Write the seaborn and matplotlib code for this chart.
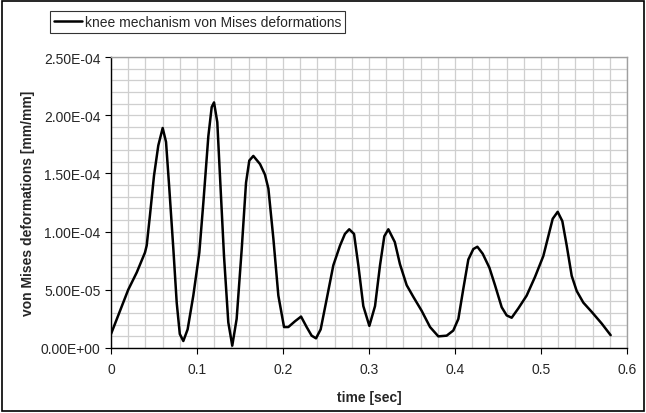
import matplotlib
matplotlib.use("Agg")
import matplotlib.pyplot as plt
import seaborn as sns
import pandas as pd
from matplotlib.ticker import MultipleLocator, FuncFormatter
from matplotlib.patches import Rectangle

time_sec = [0.0, 0.01, 0.02, 0.03, 0.0395, 0.0415, 0.0453, 0.050, 0.055, 0.0601,
            0.064, 0.0678, 0.0725, 0.0764, 0.080, 0.0841, 0.0891, 0.0957, 0.1027, 0.1074,
            0.1132, 0.1171, 0.1198, 0.1236, 0.1267, 0.1314, 0.1364, 0.141, 0.1461, 0.152,
            0.157, 0.1608, 0.1655, 0.1733, 0.179, 0.183, 0.1888, 0.1946, 0.2012, 0.2062,
            0.214, 0.221, 0.2275, 0.2333, 0.2384, 0.2438, 0.2508, 0.2585, 0.2663, 0.272,
            0.277, 0.2826, 0.2876, 0.2934, 0.3004, 0.307, 0.3128, 0.3178, 0.3225, 0.330,
            0.336, 0.3438, 0.3515, 0.3612, 0.371, 0.3806, 0.3903, 0.398, 0.4039, 0.4097,
            0.4155, 0.4213, 0.426, 0.4322, 0.440, 0.4465, 0.4543, 0.4601, 0.4659, 0.4736,
            0.4833, 0.493, 0.5027, 0.5085, 0.5136, 0.5194, 0.5248, 0.5299, 0.5357, 0.5415,
            0.5492, 0.559, 0.5706, 0.581]
von_mises = [1.2e-5, 3.1e-5, 5.0e-5, 6.5e-5, 8.2e-5, 8.8e-5, 1.14e-4, 1.48e-4, 1.74e-4, 1.89e-4,
             1.77e-4, 1.37e-4, 8.5e-5, 3.9e-5, 1.2e-5, 6e-6, 1.6e-5, 4.5e-5, 8.2e-5, 1.25e-4,
             1.82e-4, 2.07e-4, 2.11e-4, 1.94e-4, 1.48e-4, 7.9e-5, 2.2e-5, 2e-6, 2.5e-5, 8.5e-5,
             1.42e-4, 1.61e-4, 1.65e-4, 1.58e-4, 1.49e-4, 1.37e-4, 9.4e-5, 4.5e-5, 1.8e-5, 1.8e-5,
             2.3e-5, 2.7e-5, 1.8e-5, 1.06e-5, 8.3e-6, 1.6e-5, 4.2e-5, 7.1e-5, 8.8e-5, 9.8e-5,
             1.02e-4, 9.8e-5, 7.1e-5, 3.6e-5, 1.9e-5, 3.6e-5, 7.1e-5, 9.6e-5, 1.02e-4, 9.1e-5,
             7.2e-5, 5.4e-5, 4.4e-5, 3.2e-5, 1.8e-5, 1.0e-5, 1.06e-5, 1.5e-5, 2.5e-5, 5.1e-5,
             7.6e-5, 8.5e-5, 8.7e-5, 8.1e-5, 6.9e-5, 5.4e-5, 3.5e-5, 2.8e-5, 2.6e-5, 3.4e-5,
             4.5e-5, 6.1e-5, 7.9e-5, 9.6e-5, 1.11e-4, 1.17e-4, 1.09e-4, 8.8e-5, 6.2e-5, 4.9e-5,
             3.9e-5, 3.1e-5, 2.1e-5, 1.1e-5]
series_name = "knee mechanism von Mises deformations"
x_label = "time [sec]"
y_label = "von Mises deformations [mm/mm]"

df = pd.DataFrame({"t": time_sec, "v": von_mises, "s": series_name})

sns.set_style("white")
plt.rcParams["font.family"] = ["Liberation Sans", "DejaVu Sans"]

fig = plt.figure(figsize=(6.46, 4.14), dpi=100)
ax = fig.add_axes([111/646, 65/414, 516/646, 291/414])

sns.lineplot(data=df, x="t", y="v", hue="s", palette=["black"], sort=False,
             linewidth=1.8, ax=ax, legend=True)
for ln in ax.get_lines():
    ln.set_solid_joinstyle("round")

ax.set_xlim(0, 0.6)
ax.set_ylim(0, 2.5e-4)
ax.xaxis.set_major_locator(MultipleLocator(0.1))
ax.yaxis.set_major_locator(MultipleLocator(5e-5))
ax.xaxis.set_minor_locator(MultipleLocator(0.02))
ax.yaxis.set_minor_locator(MultipleLocator(1e-5))
ax.grid(True, which="both", color="#cfcfcf", linewidth=0.9)
ax.set_axisbelow(True)

ax.yaxis.set_major_formatter(FuncFormatter(lambda v, p: "%.2E" % v))
ax.xaxis.set_major_formatter(FuncFormatter(lambda v, p: ("%g" % round(v, 2))))

ax.tick_params(axis="both", which="major", direction="out", length=4, width=0.8,
               color="black", labelsize=10, bottom=True, left=True)
ax.tick_params(axis="both", which="minor", length=0)
ax.tick_params(axis="x", pad=6)

for side in ["left", "bottom"]:
    ax.spines[side].set_color("black")
    ax.spines[side].set_linewidth(1.0)
for side in ["top", "right"]:
    ax.spines[side].set_color("#a0a0a0")
    ax.spines[side].set_linewidth(1.0)

ax.set_xlabel(x_label, fontsize=10, fontweight="bold", labelpad=10)
ax.set_ylabel(y_label, fontsize=10, fontweight="bold", labelpad=4)

leg = ax.legend(loc="upper left", bbox_to_anchor=(50/646, 1 - 12/414),
                bbox_transform=fig.transFigure, frameon=True, fancybox=False,
                fontsize=10, handlelength=2.0, handletextpad=0.2,
                borderpad=0.3, borderaxespad=0)
leg.get_frame().set_edgecolor("black")
leg.get_frame().set_linewidth(0.8)
for line in leg.get_lines():
    line.set_linewidth(1.8)

fig.patches.append(Rectangle((2/646, 2/414), 642/646, 410/414, transform=fig.transFigure,
                             fill=False, edgecolor="black", linewidth=1.2))

fig.savefig("out.png", dpi=100)
